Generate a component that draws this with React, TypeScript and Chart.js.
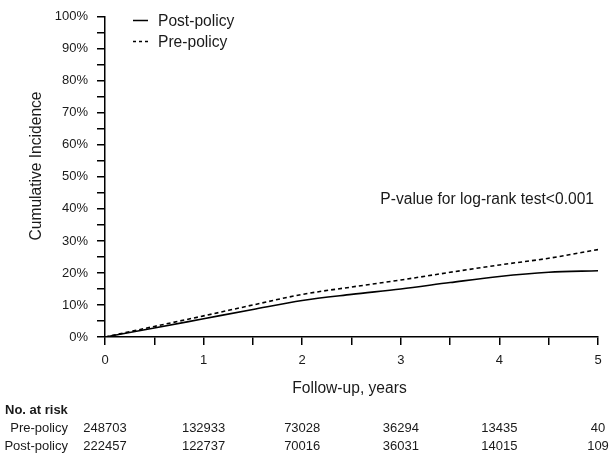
import React, { useEffect, useRef } from "react";
import { Chart, registerables } from "chart.js";

Chart.register(...registerables);

const followUpYears = [0, 0.5, 1, 1.5, 2, 2.5, 3, 3.5, 4, 4.5, 5];
const prePolicy = [0, 3.3, 6.6, 10.0, 13.3, 15.6, 17.8, 20.2, 22.5, 24.6, 27.3];
const postPolicy = [0, 2.8, 5.7, 8.6, 11.4, 13.3, 15.0, 17.0, 18.9, 20.2, 20.7];

const riskYears = [0, 1, 2, 3, 4, 5];
const riskPre = [248703, 132933, 73028, 36294, 13435, 40];
const riskPost = [222457, 122737, 70016, 36031, 14015, 109];

const FONT = '"Liberation Sans", Arial, Helvetica, sans-serif';
const TEXT = "#1a1a1a";

const annotations = {
  id: "kmAnnotations",
  afterDraw(chart: any) {
    const ctx = chart.ctx;
    const xs = chart.scales.x;
    const area = chart.chartArea;
    ctx.save();
    ctx.fillStyle = TEXT;
    ctx.strokeStyle = "#000";

    // legend
    ctx.lineWidth = 1.5;
    ctx.setLineDash([]);
    ctx.beginPath();
    ctx.moveTo(133, 20.5);
    ctx.lineTo(148, 20.5);
    ctx.stroke();
    ctx.setLineDash([3, 3]);
    ctx.beginPath();
    ctx.moveTo(133, 41.5);
    ctx.lineTo(148, 41.5);
    ctx.stroke();
    ctx.setLineDash([]);
    ctx.font = `15.6px ${FONT}`;
    ctx.textAlign = "left";
    ctx.textBaseline = "alphabetic";
    ctx.fillText("Post-policy", 158, 26);
    ctx.fillText("Pre-policy", 158, 47);

    // p-value
    ctx.textAlign = "right";
    ctx.fillText("P-value for log-rank test<0.001", 594, 204);

    // x title
    ctx.textAlign = "center";
    ctx.fillText("Follow-up, years", (area.left + area.right) / 2 - 2, 393);

    // y title
    ctx.save();
    ctx.translate(37, 166);
    ctx.rotate(-Math.PI / 2);
    ctx.textBaseline = "middle";
    ctx.fillText("Cumulative Incidence", 0, 0);
    ctx.restore();

    // risk table
    ctx.font = `bold 13px ${FONT}`;
    ctx.textAlign = "left";
    ctx.fillText("No. at risk", 5, 414);
    ctx.font = `13px ${FONT}`;
    ctx.textAlign = "right";
    ctx.fillText("Pre-policy", 68, 432);
    ctx.fillText("Post-policy", 68, 450);
    ctx.textAlign = "center";
    riskYears.forEach((yr, i) => {
      const px = xs.getPixelForValue(yr);
      ctx.fillText(String(riskPre[i]), px, 432);
      ctx.fillText(String(riskPost[i]), px, 450);
    });
    ctx.restore();
  },
};

export default function App() {
  const ref = useRef<HTMLCanvasElement | null>(null);
  useEffect(() => {
    if (!ref.current) return;
    const chart = new Chart(ref.current, {
      type: "line",
      data: {
        datasets: [
          {
            label: "Post-policy",
            data: followUpYears.map((x, i) => ({ x, y: postPolicy[i] })),
            borderColor: "#000",
            borderWidth: 1.6,
            pointRadius: 0,
            fill: false,
            cubicInterpolationMode: "monotone",
          },
          {
            label: "Pre-policy",
            data: followUpYears.map((x, i) => ({ x, y: prePolicy[i] })),
            borderColor: "#000",
            borderWidth: 1.6,
            borderDash: [4, 3],
            pointRadius: 0,
            fill: false,
            cubicInterpolationMode: "monotone",
          },
        ],
      },
      options: {
        responsive: false,
        animation: false,
        events: [],
        layout: { padding: { top: 9, right: 18, bottom: 0, left: 0 } },
        plugins: {
          legend: { display: false },
          tooltip: { enabled: false },
          title: { display: false },
        },
        scales: {
          x: {
            type: "linear",
            min: 0,
            max: 5,
            afterFit: (s: any) => {
              s.height = 119;
            },
            ticks: {
              stepSize: 0.5,
              autoSkip: false,
              maxRotation: 0,
              padding: 8,
              color: TEXT,
              font: { family: FONT, size: 13 },
              callback: (v: any) => (Number(v) % 1 === 0 ? String(v) : ""),
            },
            grid: {
              display: true,
              drawOnChartArea: false,
              drawTicks: true,
              tickLength: 8,
              tickColor: "#000",
              lineWidth: 1.5,
              color: "#000",
            },
            border: { display: true, color: "#000", width: 1.5 },
          },
          y: {
            type: "linear",
            min: 0,
            max: 100,
            afterFit: (s: any) => {
              s.width = 105;
            },
            ticks: {
              stepSize: 5,
              autoSkip: false,
              padding: 9,
              color: TEXT,
              font: { family: FONT, size: 13 },
              callback: (v: any) => (Number(v) % 10 === 0 ? `${v}%` : ""),
            },
            grid: {
              display: true,
              drawOnChartArea: false,
              drawTicks: true,
              tickLength: 8,
              tickColor: "#000",
              lineWidth: 1.5,
              color: "#000",
            },
            border: { display: true, color: "#000", width: 1.5 },
          },
        },
      },
      plugins: [annotations],
    });
    return () => chart.destroy();
  }, []);

  return (
    <div style={{ position: "fixed", left: 0, top: 0, width: 616, height: 456, background: "#fff" }}>
      <canvas ref={ref} width={616} height={456} style={{ display: "block" }} />
    </div>
  );
}
